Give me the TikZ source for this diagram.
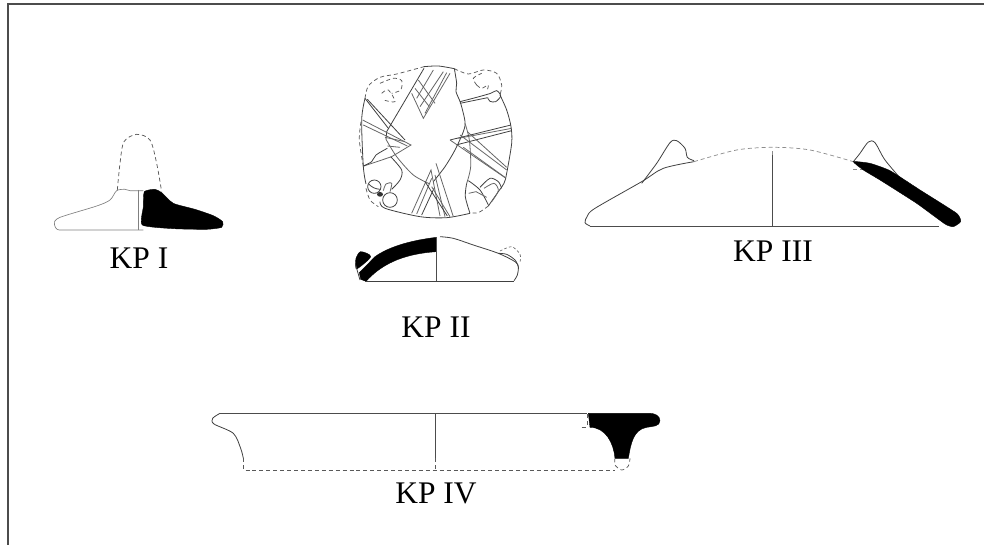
\documentclass[tikz,border=0pt]{standalone}
\usepackage{fontspec}
\setmainfont{Liberation Serif}
\begin{document}
\begin{tikzpicture}
    [ x=0.75pt, y=-0.75pt,
      kp-label/.style = {
        anchor=base, inner sep=0pt,
        font=\fontsize{23.6}{24}\selectfont, text=black
      },
      frame-line/.style = {draw=black!70, line width=1.1pt},
      sherd-line/.style = {draw=black!75, line width=0.6pt},
      faint-line/.style = {draw=black!50, line width=0.5pt},
      axis-line/.style = {draw=black!70, line width=0.6pt},
      dash-line/.style = {draw=black!65, line width=0.55pt, dash pattern=on 3pt off 2.2pt},
      rib-line/.style = {draw=black!60, line width=0.6pt},
      cut-fill/.style = {fill=black, draw=black, line width=0.3pt}]
      \useasboundingbox (0,0) rectangle (984,545);
      \draw [frame-line] (8,545) -- (8,4) -- (984,4);

      % KP I
      \begin{scope}[shift={(40,120)}, scale=1/3]
        \draw [dash-line] plot [smooth] coordinates
          {(232,210) (240,130) (252,65) (290,43) (330,60) (350,130) (365,215)};
        \draw [faint-line] plot [smooth] coordinates
          {(310,212) (270,212) (255,208) (230,212) (210,240) (170,258) (60,292) (43,308)};
        \draw [faint-line] (43,308) to [out=-90, in=180] (58,330) -- (310,330);
        \draw [faint-line] (295,210) -- (295,330);
        \draw [cut-fill] plot [smooth cycle, tension=0.35] coordinates
          {(313,215) (345,208) (365,218) (400,250) (465,268) (520,287) (548,305)
           (545,322) (500,328) (400,326) (307,315) (310,260)};
        \node [kp-label] (kp1) at (297,445) {KP I};
      \end{scope}

      % KP II, plate
      \begin{scope}[shift={(350,60)}, scale=1/3]
        \draw [dash-line] plot [smooth] coordinates
          {(45,115) (55,78) (90,52) (140,42) (222,20)};
        \draw [dash-line] plot [smooth] coordinates
          {(313,26) (355,42) (400,30) (440,40) (455,75) (450,105)};
        \draw [dash-line] plot [smooth] coordinates {(33,185) (28,240) (40,320)};
        \draw [dash-line] plot [smooth] coordinates {(48,385) (60,420) (85,440)};
        \draw [dash-line] plot [smooth] coordinates {(415,438) (385,458) (360,458)};
        \draw [dash-line] plot [smooth] coordinates
          {(90,70) (130,55) (155,62) (152,90) (125,100)};
        \draw [dash-line] plot [smooth] coordinates {(95,100) (115,90) (135,125) (100,120)};
        \draw [dash-line] plot [smooth] coordinates
          {(380,75) (370,55) (395,40)};
        \draw [dash-line] plot [smooth] coordinates {(380,75) (395,85) (415,75) (410,95)};
        \draw [sherd-line] plot [smooth] coordinates
          {(222,20) (265,18) (313,26)};
        \draw [sherd-line] plot [smooth] coordinates
          {(45,115) (35,180) (40,320) (48,372)};
        \draw [sherd-line] plot [smooth] coordinates
          {(450,105) (470,150) (483,200) (485,250) (470,340) (462,370) (445,395) (415,438)};
        \draw [sherd-line] plot [smooth] coordinates
          {(90,425) (105,445) (210,470) (290,473) (360,460)};
        % centre panel
        \draw [sherd-line] (222,25) -- (110,215) -- (108,238);
        \draw [sherd-line] plot [smooth] coordinates
          {(313,26) (320,70) (318,95) (332,130) (345,185) (340,215) (315,270) (285,320) (250,365)};
        \draw [rib-line] plot [smooth] coordinates
          {(108,238) (140,290) (190,345) (240,372)};
        \draw [rib-line] plot [smooth] coordinates
          {(345,190) (358,240) (362,320) (350,370)};
        % top ribs
        \draw [rib-line] (185,100) -- (220,175) -- (300,40);
        \draw [rib-line] (225,160) -- (290,38);
        \draw [rib-line] (210,140) -- (280,35);
        \draw [rib-line] (200,115) -- (250,30);
        \draw [rib-line] (205,60) -- (255,130);
        \draw [rib-line] (195,85) -- (238,140);
        % left ribs
        \draw [rib-line] (38,180) -- (183,255) -- (125,290) -- (42,318);
        \draw [rib-line] (40,195) -- (172,258);
        \draw [sherd-line] (45,115) -- (115,205);
        \draw [sherd-line] (52,118) -- (165,240);
        \draw [rib-line] (165,245) -- (105,232);
        \draw [rib-line] (150,262) -- (112,258);
        \draw [sherd-line] plot [smooth] coordinates {(40,318) (65,305) (78,285) (112,265)};
        % right ribs
        \draw [sherd-line] (300,240) -- (483,195);
        \draw [rib-line] (325,235) -- (485,205);
        \draw [sherd-line] (318,255) -- (485,212);
        \draw [rib-line] (300,240) -- (468,355);
        \draw [rib-line] (330,225) -- (470,330);
        \draw [rib-line] (340,262) -- (465,352);
        \draw [rib-line] (352,215) -- (470,322);
        % bottom ribs
        \draw [rib-line] (185,460) -- (243,330) -- (270,468);
        \draw [rib-line] (200,462) -- (245,355);
        \draw [sherd-line] (215,465) -- (252,385);
        \draw [rib-line] (258,310) -- (310,470);
        \draw [rib-line] (255,345) -- (285,470);
        \draw [sherd-line] (225,365) -- (292,468);
        \draw [rib-line] (245,380) -- (300,470);
        % bosses
        \draw [sherd-line] (73,380) circle [radius=20];
        \draw [sherd-line] (56,372) to [bend right=20] (90,388);
        \draw [sherd-line] (120,420) circle [radius=22];
        \draw [rib-line] plot [smooth] coordinates {(100,392) (108,372) (125,370) (120,395)};
        \fill [black!80] (90,403) ellipse [x radius=9, y radius=7];
        \draw [sherd-line] plot [smooth] coordinates {(122,290) (155,330) (150,360) (125,388)};
        \draw [sherd-line] plot [smooth] coordinates {(330,125) (380,112) (422,100) (440,92) (452,108) (437,125) (420,124) (413,113)};
        \draw [sherd-line] (330,130) -- (413,113);
        \draw [sherd-line] plot [smooth] coordinates {(355,362) (390,390) (415,435)};
        \draw [sherd-line] plot [smooth] coordinates {(390,382) (420,355) (445,365) (455,385)};
        \draw [rib-line] plot [smooth] coordinates {(402,385) (432,370) (445,392) (425,425)};
        \draw [sherd-line] plot [smooth] coordinates {(350,370) (346,410) (360,460)};
        \draw [rib-line] (356,400) -- (378,395) -- (410,412);
      \end{scope}

      % KP II, profile
      \begin{scope}[shift={(340,210)}, scale=1/3]
        \draw [cut-fill] (290,82) .. controls (220,90) and (150,108) .. (105,140)
          -- (58,188) -- (62,208) -- (78,214)
          .. controls (120,168) and (180,132) .. (290,125) -- cycle;
        \draw [cut-fill] plot [smooth cycle, tension=0.5] coordinates
          {(92,140) (62,125) (48,145) (47,165) (52,176)};
        \draw [sherd-line] (47,165) -- (60,210);
        \draw [sherd-line] (75,213) -- (522,213);
        \draw [axis-line] (290,82) -- (290,213);
        \node [kp-label] (kp2) at (288,381) {KP II};
      \end{scope}
      \begin{scope}[shift={(440,215)}, scale=1/3]
        \draw [sherd-line] plot [smooth] coordinates
          {(0,65) (40,70) (100,90) (175,115) (225,140) (235,155) (232,180) (222,197)};
        \draw [sherd-line] plot [smooth] coordinates
          {(175,115) (200,118) (225,135) (235,155)};
        \draw [dash-line, line width=0.45pt, dash pattern=on 2pt off 1.6pt] plot [smooth] coordinates
          {(180,108) (215,95) (240,118) (240,142)};
      \end{scope}

      % KP III
      \begin{scope}[shift={(570,120)}, scale=1/3]
        \draw [sherd-line] plot [smooth] coordinates
          {(60,318) (45,308) (52,288) (75,265) (215,185) (280,145) (372,125)};
        \draw [sherd-line] plot [smooth] coordinates
          {(215,190) (260,130) (300,68) (320,62) (345,85) (352,112) (372,122)};
        \draw [axis-line] (60,318) -- (1108,318);
        \draw [axis-line] (607,318) -- (607,105);
        \draw [dash-line, draw=black!45] (607,105) -- (607,90);
        \draw [dash-line, draw=black!45] plot [smooth] coordinates
          {(372,125) (500,90) (610,82) (720,90) (850,125)};
        \draw [sherd-line] plot [smooth] coordinates
          {(850,125) (870,100) (895,66) (915,68) (945,120) (1000,185)};
        \draw [dash-line, draw=black!45] (850,147) -- (880,147);
        \draw [cut-fill] plot [smooth cycle, tension=0.3] coordinates
          {(850,125) (900,130) (960,152) (1050,210) (1160,280) (1172,305) (1150,320)
           (1125,312) (1040,250) (930,180) (880,150)};
        \node [kp-label] (kp3) at (609,425) {KP III};
      \end{scope}

      % KP IV
      \begin{scope}[shift={(200,390)}, scale=1/3]
        \draw [sherd-line] plot [smooth] coordinates
          {(60,70) (38,85) (42,102) (100,130) (122,175) (130,205)};
        \draw [axis-line] (60,70) -- (1160,70);
        \draw [axis-line] (706,70) -- (706,205);
        \draw [dash-line] (706,205) -- (706,240);
        \draw [dash-line] (130,205) -- (130,240) -- (1245,240);
        \draw [cut-fill] (1165,70) -- (1350,70)
          to [out=0, in=90] (1380,92) to [out=-90, in=10] (1340,112)
          to [out=190, in=80] (1285,205) -- (1245,205)
          to [out=95, in=0] (1170,112) -- cycle;
        \draw [dash-line] (1163,72) -- (1163,112);
        \draw [dash-line] (1145,113) -- (1165,113);
        \draw [dash-line] plot [smooth] coordinates
          {(1245,205) (1245,225) (1265,240) (1285,228) (1290,205)};
        \node [kp-label] (kp4) at (708,339) {KP IV};
      \end{scope}
  \end{tikzpicture}
\end{document}
